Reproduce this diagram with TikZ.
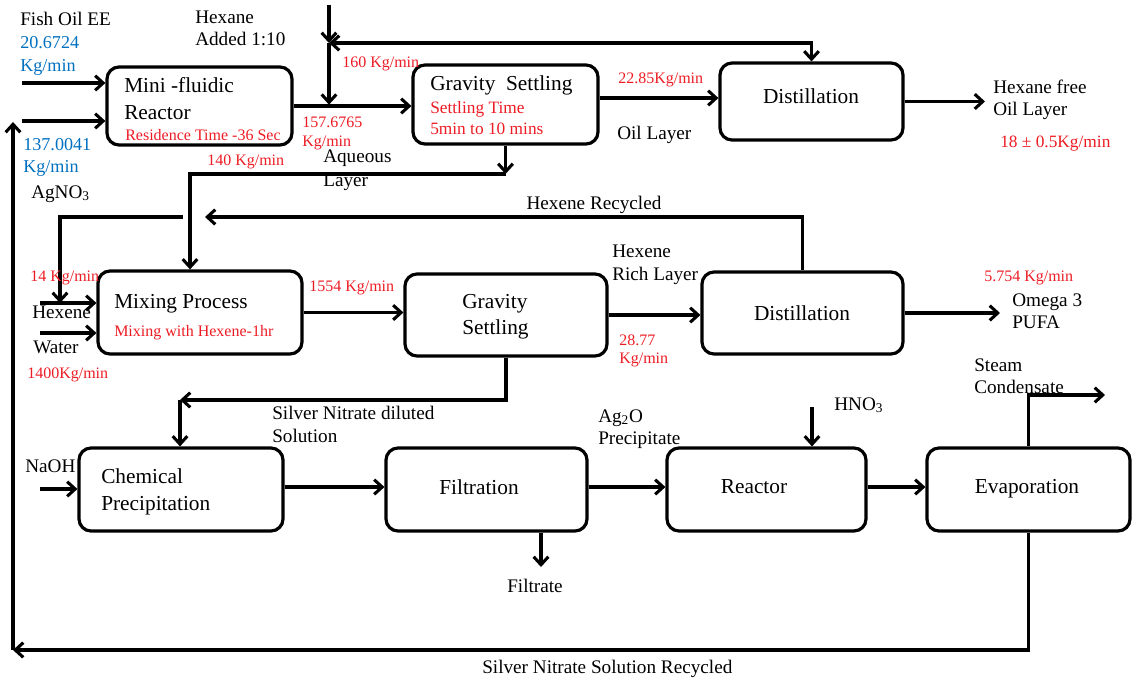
\documentclass[tikz,border=0pt]{standalone}
\usepackage{fontspec}
\setmainfont{Liberation Serif}
\usetikzlibrary{arrows.meta}
\newlength\pxu
\setlength\pxu{0.75pt}
\definecolor{flowred}{RGB}{237,28,36}
\definecolor{flowblue}{RGB}{0,112,192}
\tikzset{
  box/.style={draw, line width=2.4pt, rounded corners=9pt, inner sep=0pt},
  lbl/.style={anchor=base west, inner sep=0pt, font=\fontsize{14.4}{17}\selectfont},
  title/.style={anchor=base west, inner sep=0pt, font=\fontsize{16}{19}\selectfont},
  note/.style={anchor=base west, inner sep=0pt, text=flowred, font=\fontsize{12}{14}\selectfont},
  bignote/.style={anchor=base west, inner sep=0pt, text=flowred, font=\fontsize{13}{15}\selectfont},
  rate/.style={anchor=base west, inner sep=0pt, text=flowblue, font=\fontsize{13.6}{16}\selectfont},
  flow/.style={line width=2.3pt, -{Straight Barb[length=6pt,width=11pt]}},
  bothflow/.style={line width=2.3pt, {Straight Barb[length=6pt,width=11pt]}-{Straight Barb[length=6pt,width=11pt]}},
}
\begin{document}
\begin{tikzpicture}[x=0.75pt, y=-0.75pt]
\useasboundingbox (0,0) rectangle (1135,679);

% ---------- process units ----------
\node[box, minimum width=185\pxu, minimum height=78\pxu] (mfr)   at (199.5,106)  {};
\node[box, minimum width=185\pxu, minimum height=79\pxu] (gs1)   at (505.5,104.5) {};
\node[box, minimum width=183\pxu, minimum height=77\pxu] (dist1) at (811.5,101.5) {};
\node[box, minimum width=204\pxu, minimum height=83\pxu] (mix)   at (200,312.5)  {};
\node[box, minimum width=202\pxu, minimum height=82\pxu] (gs2)   at (506,315)    {};
\node[box, minimum width=201\pxu, minimum height=82\pxu] (dist2) at (802.5,313)  {};
\node[box, minimum width=204\pxu, minimum height=83\pxu] (chem)  at (181,489.5)  {};
\node[box, minimum width=201\pxu, minimum height=83\pxu] (filt)  at (486.5,489.5) {};
\node[box, minimum width=199\pxu, minimum height=83\pxu] (reac)  at (766.5,489.5) {};
\node[box, minimum width=203\pxu, minimum height=83\pxu] (evap)  at (1028.5,489.5) {};

% ---------- texts inside the units ----------
\node[title] (mfrA) at (124,92)  {Mini -fluidic};
\node[title] (mfrB) at (124,119) {Reactor};
\node[note]  (mfrC) at (125,140) {Residence Time -36 Sec};
\node[title] (gs1A) at (430,90)  {Gravity\ \ Settling};
\node[bignote] (gs1B) at (430,113) {Settling Time};
\node[bignote] (gs1C) at (430,134) {5min to 10 mins};
\node[title, anchor=base] (dist1A) at (811,103) {Distillation};
\node[title] (mixA) at (114,308) {Mixing Process};
\node[note]  (mixB) at (114,336) {Mixing with Hexene-1hr};
\node[title] (gs2A) at (462,308) {Gravity};
\node[title] (gs2B) at (462,334) {Settling};
\node[title, anchor=base] (dist2A) at (802,320) {Distillation};
\node[title] (chemA) at (101,483) {Chemical};
\node[title] (chemB) at (101,510) {Precipitation};
\node[title, anchor=base] (filtA) at (479,494) {Filtration};
\node[title, anchor=base] (reacA) at (754,493) {Reactor};
\node[title, anchor=base] (evapA) at (1027,493) {Evaporation};

% ---------- free ends of streams ----------
\coordinate (fishin)  at (22,83);
\coordinate (agin)    at (22,121);
\coordinate (hxtop)   at (329,5);
\coordinate (hxj)     at (329,43);
\coordinate (oilrow)  at (0,98);
\coordinate (hfree)   at (985,101.5);
\coordinate (aqrow)   at (0,174);
\coordinate (aqbend)  at (190,174);
\coordinate (recrow)  at (0,217);
\coordinate (recend)  at (205,217);
\coordinate (hbr)     at (183,217);
\coordinate (hleft)   at (60,217);
\coordinate (hexin)   at (40,303);
\coordinate (watin)   at (40,333);
\coordinate (omega)   at (1000,313);
\coordinate (snrow)   at (0,400);
\coordinate (snbend)  at (180,400);
\coordinate (naoh)    at (40,489);
\coordinate (row486)  at (0,487);
\coordinate (filtx)   at (541,0);
\coordinate (filtrate) at (541,567);
\coordinate (hno)     at (812,407);
\coordinate (steamrow) at (0,395);
\coordinate (steamout) at (1105,395);
\coordinate (botrow)  at (0,650);
\coordinate (botleft) at (13,650);
\coordinate (agtop)   at (13,122);

% ---------- streams ----------
\draw[flow] (fishin) -- (fishin -| mfr.west);
\draw[flow] (agin) -- (agin -| mfr.west);
\draw[flow] (mfr.east) -- (mfr.east -| gs1.west);
\draw[flow] (hxtop) -- (hxj);
\draw[flow] (hxj) -- ([yshift=1pt]hxj |- mfr.east);
\draw[bothflow] (hxj) -- (hxj -| dist1.north) -- (dist1.north);
\draw[flow] (gs1.east |- oilrow) -- (dist1.west |- oilrow);
\draw[flow] (dist1.east) -- (hfree);
\draw[flow] (gs1.south) -- (gs1.south |- aqrow);
\draw[flow] (gs1.south |- aqrow) -- (aqbend) -- (aqbend |- mix.north);
\draw[flow] (dist2.north) -- (dist2.north |- recrow) -- (recend);
\draw[flow] (hbr) -- (hleft) -- (hleft |- hexin);
\draw[flow] (hexin) -- (hexin -| mix.west);
\draw[flow] (watin) -- (watin -| mix.west);
\draw[flow] (mix.east) -- (mix.east -| gs2.west);
\draw[flow] (gs2.east) -- (gs2.east -| dist2.west);
\draw[flow] (dist2.east) -- (omega);
\draw[flow] (gs2.south) -- (gs2.south |- snrow) -- (snbend);
\draw[flow] (snbend) -- (snbend |- chem.north);
\draw[flow] (naoh) -- (naoh -| chem.west);
\draw[flow] (chem.east |- row486) -- (filt.west |- row486);
\draw[flow] (filt.south -| filtx) -- (filtrate);
\draw[flow] (filt.east |- row486) -- (reac.west |- row486);
\draw[flow] (hno) -- (hno |- reac.north);
\draw[flow] (reac.east |- row486) -- (evap.west |- row486);
\draw[flow] (evap.north) -- (evap.north |- steamrow) -- (steamout);
\draw[flow] (evap.south) -- (evap.south |- botrow) -- (botleft);
\draw[flow] (botleft) -- (agtop);

% ---------- stream labels ----------
\node[lbl]  (tFish) at (20,25)  {Fish Oil EE};
\node[rate] (tFishA) at (20,48) {20.6724};
\node[rate] (tFishB) at (20,71) {Kg/min};
\node[lbl]  (tHexA) at (195,23) {Hexane};
\node[lbl]  (tHexB) at (195,45) {Added 1:10};
\node[note] (t160)  at (342,67) {160 Kg/min};
\node[rate] (tAgA)  at (23,150) {137.0041};
\node[rate] (tAgB)  at (23,172) {Kg/min};
\node[lbl]  (tAg)   at (31,198) {AgNO\textsubscript{3}};
\node[note] (t157A) at (302,127) {157.6765};
\node[note] (t157B) at (302,146) {Kg/min};
\node[note] (t140)  at (207,165) {140 Kg/min};
\node[lbl]  (tAqA)  at (323,162) {Aqueous};
\node[lbl]  (tAqB)  at (323,186) {Layer};
\node[note] (t2285) at (618,83) {22.85Kg/min};
\node[lbl]  (tOil)  at (617,139) {Oil Layer};
\node[lbl]  (tHfA)  at (993,93) {Hexane free};
\node[lbl]  (tHfB)  at (993,115) {Oil Layer};
\node[bignote] (t18) at (1000,147) {18 ± 0.5Kg/min};
\node[lbl, anchor=base] (tRec) at (594,209) {Hexene Recycled};
\node[note] (t14)   at (30,281) {14 Kg/min};
\node[lbl]  (tHexe) at (32,318) {Hexene};
\node[lbl]  (tWat)  at (33,353) {Water};
\node[note] (t1400) at (27,378) {1400Kg/min};
\node[note] (t1554) at (309,291) {1554 Kg/min};
\node[lbl]  (tRichA) at (612,257) {Hexene};
\node[lbl]  (tRichB) at (612,280) {Rich Layer};
\node[note] (t2877A) at (619,345) {28.77};
\node[note] (t2877B) at (619,363) {Kg/min};
\node[note] (t5754) at (984,281) {5.754 Kg/min};
\node[lbl]  (tOmA)  at (1012,306) {Omega 3};
\node[lbl]  (tOmB)  at (1012,328) {PUFA};
\node[lbl]  (tStA)  at (974,371) {Steam};
\node[lbl]  (tStB)  at (974,393) {Condensate};
\node[lbl]  (tSnA)  at (272,419) {Silver Nitrate diluted};
\node[lbl]  (tSnB)  at (272,442) {Solution};
\node[lbl]  (tNaOH) at (25,472) {NaOH};
\node[lbl]  (tAgoA) at (598,422) {Ag\textsubscript{2}O};
\node[lbl]  (tAgoB) at (598,444) {Precipitate};
\node[lbl]  (tHno)  at (834,410) {HNO\textsubscript{3}};
\node[lbl]  (tFil)  at (507,592) {Filtrate};
\node[lbl]  (tSnr)  at (482,673) {Silver Nitrate Solution Recycled};
\end{tikzpicture}
\end{document}
